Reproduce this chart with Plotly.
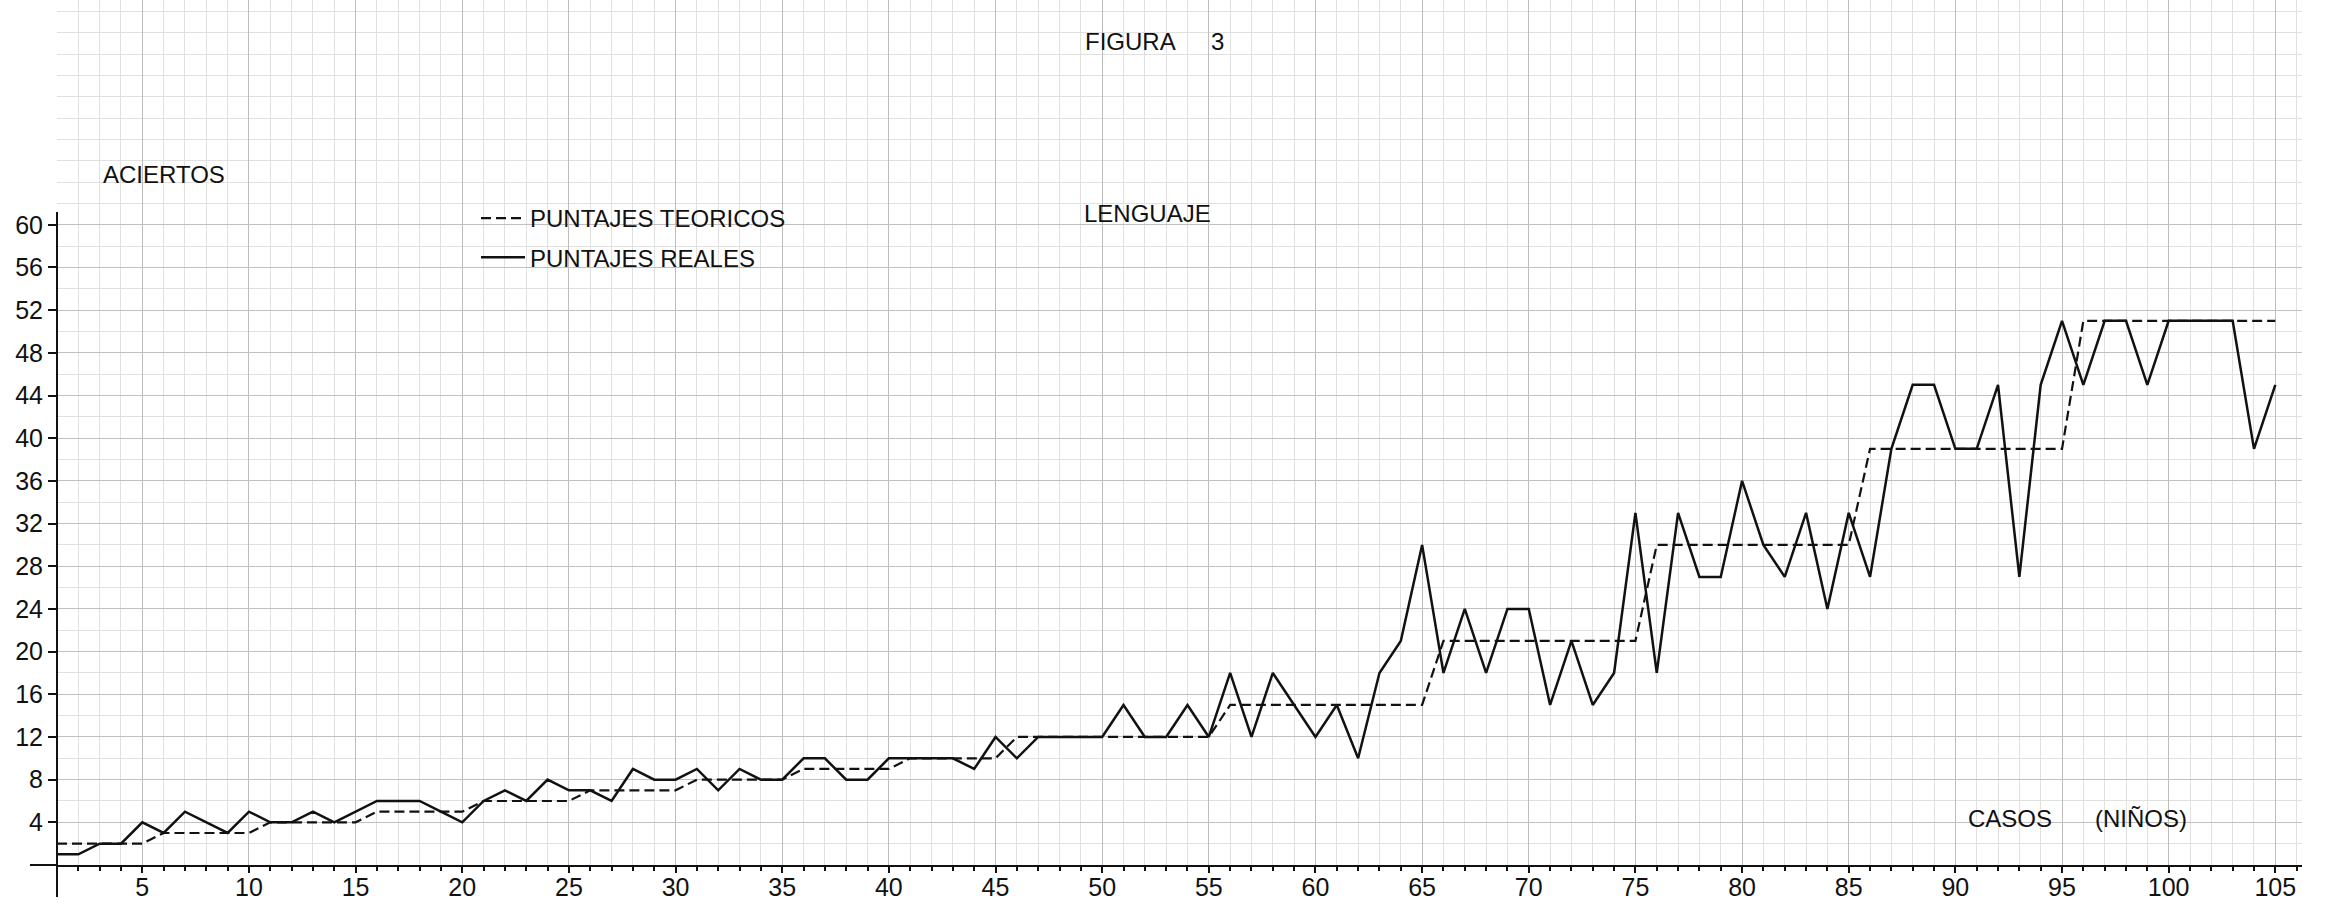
import plotly.graph_objects as go

# ---- data ----
casos = list(range(1, 106))

puntajes_reales = [
    1, 1, 2, 2, 4, 3, 5, 4, 3, 5,
    4, 4, 5, 4, 5, 6, 6, 6, 5, 4,
    6, 7, 6, 8, 7, 7, 6, 9, 8, 8,
    9, 7, 9, 8, 8, 10, 10, 8, 8, 10,
    10, 10, 10, 9, 12, 10, 12, 12, 12, 12,
    15, 12, 12, 15, 12, 18, 12, 18, 15, 12,
    15, 10, 18, 21, 30, 18, 24, 18, 24, 24,
    15, 21, 15, 18, 33, 18, 33, 27, 27, 36,
    30, 27, 33, 24, 33, 27, 39, 45, 45, 39,
    39, 45, 27, 45, 51, 45, 51, 51, 45, 51,
    51, 51, 51, 39, 45,
]

puntajes_teoricos = [
    2, 2, 2, 2, 2, 3, 3, 3, 3, 3,
    4, 4, 4, 4, 4, 5, 5, 5, 5, 5,
    6, 6, 6, 6, 6, 7, 7, 7, 7, 7,
    8, 8, 8, 8, 8, 9, 9, 9, 9, 9,
    10, 10, 10, 10, 10, 12, 12, 12, 12, 12,
    12, 12, 12, 12, 12, 15, 15, 15, 15, 15,
    15, 15, 15, 15, 15, 21, 21, 21, 21, 21,
    21, 21, 21, 21, 21, 30, 30, 30, 30, 30,
    30, 30, 30, 30, 30, 39, 39, 39, 39, 39,
    39, 39, 39, 39, 39, 51, 51, 51, 51, 51,
    51, 51, 51, 51, 51,
]

x_ticks = [5, 10, 15, 20, 25, 30, 35, 40, 45, 50, 55, 60, 65, 70, 75, 80, 85, 90, 95, 100, 105]
y_ticks = [4, 8, 12, 16, 20, 24, 28, 32, 36, 40, 44, 48, 52, 56, 60]

FONT = "Liberation Sans, Arial, sans-serif"

fig = go.Figure()
fig.add_trace(go.Scatter(
    x=casos, y=puntajes_teoricos, mode="lines", name="PUNTAJES TEORICOS",
    legendgroup="t", line=dict(color="#111111", width=2.2, dash="10px,5px"),
))
fig.add_trace(go.Scatter(
    x=casos, y=puntajes_reales, mode="lines", name="PUNTAJES REALES",
    legendgroup="r", line=dict(color="#111111", width=2.5),
))

W, H = 2338, 911
ML, MR, MT, MB = 57, 36, 0, 46
pw, ph = W - ML - MR, H - MT - MB
xpu = 21.33   # px per case
ypu = 10.67   # px per score unit
x_range = [1, 1 + pw / xpu]
y_range = [0, ph / ypu]


def px_x(p):
    return (p - ML) / pw


def px_y(p):
    return (H - MB - p) / ph


fig.update_layout(
    width=W, height=H,
    margin=dict(l=ML, r=MR, t=MT, b=MB, pad=0),
    paper_bgcolor="white", plot_bgcolor="white",
    font=dict(family=FONT, color="#111111", size=22),
    showlegend=True,
    legend=dict(
        x=px_x(476), y=px_y(196), xanchor="left", yanchor="top",
        bgcolor="rgba(0,0,0,0)", borderwidth=0,
        font=dict(size=24, family=FONT, color="#111111"),
        traceorder="grouped", tracegroupgap=5, itemwidth=44,
    ),
    xaxis=dict(
        range=x_range, tickmode="array", tickvals=x_ticks,
        ticktext=[str(v) for v in x_ticks],
        showgrid=True, gridcolor="#bdbdbd", gridwidth=1,
        showline=True, linecolor="#111111", linewidth=2,
        ticks="outside", ticklen=6, tickwidth=2, tickcolor="#111111",
        ticklabelstandoff=-7,
        tickfont=dict(size=25, family=FONT, color="#111111"),
        zeroline=False,
        minor=dict(dtick=1, tick0=0, showgrid=True, gridcolor="#e0e0e0", gridwidth=1,
                   ticks="outside", ticklen=4, tickcolor="#111111", tickwidth=1.5),
    ),
    yaxis=dict(
        range=y_range, tickmode="array", tickvals=y_ticks,
        ticktext=[str(v) for v in y_ticks],
        showgrid=True, gridcolor="#c0c0c0", gridwidth=1,
        showline=False, zeroline=False,
        ticks="outside", ticklen=8, tickwidth=2, tickcolor="#111111",
        tickfont=dict(size=25, family=FONT, color="#111111"),
        minor=dict(dtick=2, tick0=0, showgrid=True, gridcolor="#e0e0e0", gridwidth=1),
    ),
)

# axis line of the y axis (only up to just above 60, and slightly below the x axis)
fig.add_shape(type="line", xref="paper", yref="paper", x0=0, x1=0,
              y0=px_y(897), y1=px_y(212), line=dict(color="#111111", width=2))
# short extension of the x axis to the left of the y axis
fig.add_shape(type="line", xref="paper", yref="paper", x0=px_x(30), x1=0,
              y0=0, y1=0, line=dict(color="#111111", width=2))

ann = dict(xref="paper", yref="paper", showarrow=False,
           font=dict(family=FONT, size=24, color="#111111"), yanchor="middle")
fig.add_annotation(text="ACIERTOS", x=px_x(101), y=px_y(175), xanchor="left", **ann)
fig.add_annotation(text="FIGURA", x=px_x(1083), y=px_y(42), xanchor="left", **ann)
fig.add_annotation(text="3", x=px_x(1217), y=px_y(42), xanchor="center", **ann)
fig.add_annotation(text="LENGUAJE", x=px_x(1082), y=px_y(213), xanchor="left", **ann)
fig.add_annotation(text="CASOS", x=px_x(1966), y=px_y(818), xanchor="left", **ann)
fig.add_annotation(text="(NIÑOS)", x=px_x(2093), y=px_y(818), xanchor="left", **ann)

fig.write_html("out.html", config={"displayModeBar": False},
               post_script="document.body.style.margin='0';")
